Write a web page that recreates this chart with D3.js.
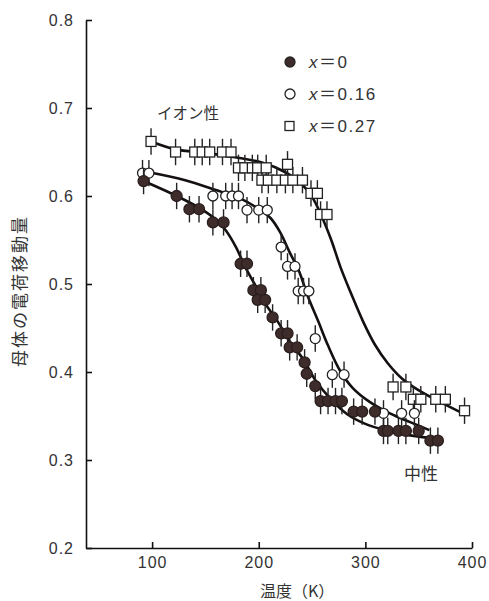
<!DOCTYPE html>
<html>
<head>
<meta charset="utf-8">
<script src="https://cdn.jsdelivr.net/npm/d3@7"></script>
<style>
    body { margin: 0; background: #fff; }
    svg { display: block; }
    .tick text { font-family: "Liberation Sans", Arial, sans-serif; font-size: 16px; fill: #333; letter-spacing: 1px; }
    .jp { font-family: "Noto Sans CJK JP", sans-serif; fill: #333; }
</style>
</head>
<body>
<div id="chart"></div>
<script>
// x = 0 (filled circles)
const tempsX0 = [92, 123, 135, 144, 157, 167, 183, 189, 195, 202, 199, 206, 213, 221, 227, 229, 236, 243, 245, 253,
    258, 265, 272, 278, 289, 297, 309, 317, 321, 331, 338, 350, 361, 368];
const valuesX0 = [0.617, 0.600, 0.585, 0.585, 0.570, 0.570, 0.523, 0.523, 0.493, 0.493, 0.482, 0.482, 0.462, 0.444,
    0.444, 0.428, 0.428, 0.411, 0.398, 0.384, 0.367, 0.367, 0.367, 0.367, 0.355, 0.355, 0.355, 0.333, 0.333, 0.333,
    0.333, 0.333, 0.322, 0.322];

// x = 0.16 (open circles)
const tempsX016 = [91, 97, 157, 169, 175, 181, 189, 200, 208, 221, 227, 234, 237, 242, 247, 253, 269, 280, 317, 334, 346];
const valuesX016 = [0.626, 0.626, 0.600, 0.600, 0.600, 0.600, 0.584, 0.584, 0.584, 0.542, 0.520, 0.520, 0.492, 0.492,
    0.492, 0.438, 0.397, 0.397, 0.353, 0.353, 0.353];

// x = 0.27 (open squares)
const tempsX027 = [99, 122, 140, 147, 154, 166, 174, 181, 187, 194, 199, 207, 227, 203, 209, 217, 225, 232, 241, 249,
    255, 258, 264, 326, 338, 345, 352, 366, 375, 393];
const valuesX027 = [0.662, 0.650, 0.650, 0.650, 0.650, 0.650, 0.650, 0.632, 0.632, 0.632, 0.632, 0.632, 0.636, 0.618,
    0.618, 0.618, 0.618, 0.618, 0.618, 0.603, 0.603, 0.579, 0.579, 0.383, 0.383, 0.369, 0.369, 0.369, 0.369, 0.356];

// fitted curves
const fitTempsX0 = [92, 123, 145, 159, 169, 179, 187, 197, 206, 218, 229, 242, 253, 267, 283, 300, 318, 342, 370];
const fitValuesX0 = [0.617, 0.600, 0.586, 0.574, 0.561, 0.541, 0.520, 0.498, 0.478, 0.457, 0.435, 0.414, 0.391, 0.370,
    0.352, 0.341, 0.334, 0.328, 0.324];
const fitTempsX016 = [97, 131, 159, 183, 199, 211, 220, 229, 238, 246, 256, 265, 276, 288, 304, 323, 342, 360];
const fitValuesX016 = [0.627, 0.618, 0.607, 0.597, 0.586, 0.575, 0.559, 0.536, 0.514, 0.486, 0.457, 0.430, 0.402, 0.382,
    0.366, 0.353, 0.343, 0.334];
const fitTempsX027 = [99, 122, 150, 178, 203, 225, 239, 250, 259, 268, 277, 287, 298, 309, 321, 334, 349, 370, 393];
const fitValuesX027 = [0.662, 0.653, 0.649, 0.644, 0.638, 0.627, 0.615, 0.599, 0.577, 0.550, 0.518, 0.488, 0.457, 0.431,
    0.410, 0.393, 0.380, 0.366, 0.352];

const errorBar = 0.015;
const yTicks = [0.2, 0.3, 0.4, 0.5, 0.6, 0.7, 0.8];
const xTicks = [100, 200, 300, 400];
const legendLabels = ["0", "0.16", "0.27"];

const width = 489, height = 601;
const svg = d3.select("#chart").append("svg")
    .attr("width", width)
    .attr("height", height);

const x = d3.scaleLinear().domain([38, 400]).range([86, 472]);
const y = d3.scaleLinear().domain([0.2, 0.8]).range([548, 20]);

// axes
svg.append("g")
    .attr("transform", `translate(${x(38)},0)`)
    .call(d3.axisLeft(y).tickValues(yTicks).tickFormat(d3.format(".1f"))
        .tickSizeInner(-6).tickSizeOuter(0).tickPadding(12))
    .call(g => g.selectAll("path, line").attr("stroke", "#111").attr("stroke-width", 1.6));

svg.append("g")
    .attr("transform", `translate(0,${y(0.2)})`)
    .call(d3.axisBottom(x).tickValues(xTicks)
        .tickSizeInner(-6).tickSizeOuter(0).tickPadding(9))
    .call(g => g.selectAll("path, line").attr("stroke", "#111").attr("stroke-width", 1.6));

// fitted lines
const line = d3.line()
    .x(d => x(d[0]))
    .y(d => y(d[1]))
    .curve(d3.curveCatmullRom.alpha(0.5));

[[fitTempsX0, fitValuesX0], [fitTempsX016, fitValuesX016], [fitTempsX027, fitValuesX027]].forEach(([ts, vs]) => {
    svg.append("path")
        .datum(ts.map((t, i) => [t, vs[i]]))
        .attr("d", line)
        .attr("fill", "none")
        .attr("stroke", "#151010")
        .attr("stroke-width", 2.6);
});

// error bars + markers
function drawSeries(ts, vs, kind) {
    const pts = ts.map((t, i) => ({t: t, v: vs[i]}));
    svg.append("g").selectAll("line")
        .data(pts)
        .enter().append("line")
        .attr("x1", d => x(d.t)).attr("x2", d => x(d.t))
        .attr("y1", d => y(d.v + errorBar)).attr("y2", d => y(d.v - errorBar))
        .attr("stroke", "#222")
        .attr("stroke-width", 1.4);

    const g = svg.append("g");
    if (kind === "square") {
        g.selectAll("rect").data(pts).enter().append("rect")
            .attr("x", d => x(d.t) - 5).attr("y", d => y(d.v) - 5)
            .attr("width", 10).attr("height", 10)
            .attr("fill", "#fff").attr("stroke", "#222").attr("stroke-width", 1.3);
    } else {
        g.selectAll("circle").data(pts).enter().append("circle")
            .attr("cx", d => x(d.t)).attr("cy", d => y(d.v))
            .attr("r", kind === "filled" ? 5.5 : 5)
            .attr("fill", kind === "filled" ? "#3d2c2a" : "#fff")
            .attr("stroke", kind === "filled" ? "#2a1e1d" : "#222")
            .attr("stroke-width", 1.3);
    }
}

drawSeries(tempsX027, valuesX027, "square");
drawSeries(tempsX016, valuesX016, "open");
drawSeries(tempsX0, valuesX0, "filled");

// legend
const legend = svg.append("g");
const kinds = ["filled", "open", "square"];
legendLabels.forEach((lab, i) => {
    const cy = 62 + i * 32;
    if (kinds[i] === "square") {
        legend.append("rect").attr("x", 285).attr("y", cy - 4.5).attr("width", 9).attr("height", 9)
            .attr("fill", "#fff").attr("stroke", "#222").attr("stroke-width", 1.3);
    } else {
        legend.append("circle").attr("cx", 290).attr("cy", cy).attr("r", 5)
            .attr("fill", kinds[i] === "filled" ? "#3d2c2a" : "#fff")
            .attr("stroke", "#222").attr("stroke-width", 1.3);
    }
    const t = legend.append("text")
        .attr("x", 309).attr("y", cy + 6)
        .attr("font-family", "'Liberation Sans', Arial, sans-serif")
        .attr("font-size", 17)
        .attr("fill", "#333")
        .attr("letter-spacing", 1.5);
    t.append("tspan").attr("font-style", "italic").text("x");
    t.append("tspan").attr("font-family", "'Noto Sans CJK JP', sans-serif").text("＝");
    t.append("tspan").text(lab);
});

// annotations
svg.append("text").attr("class", "jp")
    .attr("x", 157).attr("y", 119)
    .attr("font-size", 15.5)
    .text("イオン性");

svg.append("text").attr("class", "jp")
    .attr("x", 404).attr("y", 480)
    .attr("font-size", 17)
    .text("中性");

// axis titles
svg.append("text").attr("class", "jp")
    .attr("x", 260).attr("y", 597)
    .attr("font-size", 16)
    .text("温度（K）");

svg.append("text").attr("class", "jp")
    .attr("transform", "translate(26,291) rotate(-90)")
    .attr("text-anchor", "middle")
    .attr("font-size", 17)
    .attr("letter-spacing", 2)
    .text("母体の電荷移動量");
</script>
</body>
</html>
